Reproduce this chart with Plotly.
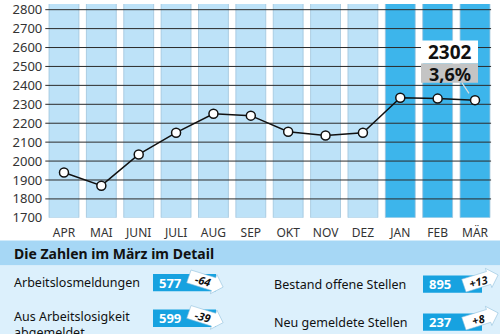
import math
import plotly.graph_objects as go

# ---------------- data ----------------
months = ["APR", "MAI", "JUNI", "JULI", "AUG", "SEP", "OKT", "NOV", "DEZ", "JAN", "FEB", "MÄR"]
values = [1940, 1870, 2035, 2150, 2250, 2240, 2155, 2135, 2150, 2335, 2330, 2322]
column_top = [2900, 2900, 2900, 2900, 2900, 2900, 2900, 2900, 2900, 2900, 2900, 2900]
highlight = [False, False, False, False, False, False, False, False, False, True, True, True]
y_ticks = [1700, 1800, 1900, 2000, 2100, 2200, 2300, 2400, 2500, 2600, 2700, 2800]
grid_levels = [1800, 1900, 2000, 2100, 2200, 2300, 2400, 2500, 2600, 2700, 2800]
last_value_label = "2302"
last_rate_label = "3,6%"

detail_title = "Die Zahlen im März im Detail"
detail_left_labels = ["Arbeitslosmeldungen", "Aus Arbeitslosigkeit<br>abgemeldet"]
detail_left_values = ["577", "599"]
detail_left_changes = ["-64", "-39"]
detail_right_labels = ["Bestand offene Stellen", "Neu gemeldete Stellen"]
detail_right_values = ["895", "237"]
detail_right_changes = ["+13", "+8"]

# ---------------- styling ----------------
W, H = 500, 334
FONT = "Noto Sans"
LIGHT = "#bde2f8"
DARK = "#3db5eb"
HEADER = "#a6d7f5"
PANEL = "#dcf0fc"
BOXBLUE = "#17a2e0"


def px(x):
    return x / W


def py(y):
    return 1 - y / H


fig = go.Figure()

fig.add_trace(go.Bar(
    x=list(range(len(months))), y=[t - 1700 for t in column_top], base=1700,
    marker=dict(color=[DARK if h else LIGHT for h in highlight],
                line=dict(color="#9fc4dc", width=0.8)),
    width=0.8, hoverinfo="skip", showlegend=False))

# grid lines drawn above columns but below the line
gx, gy = [], []
for g in grid_levels:
    gx += [-0.52, 11.43, None]
    gy += [g, g, None]
fig.add_trace(go.Scatter(x=gx, y=gy, mode="lines", line=dict(color="#2b2b2b", width=1),
                         hoverinfo="skip", showlegend=False))

fig.add_trace(go.Scatter(
    x=list(range(len(months))), y=values, mode="lines+markers",
    line=dict(color="#111111", width=1.5),
    marker=dict(size=9, color="white", line=dict(color="#111111", width=1.5)),
    showlegend=False))

shapes = []
annotations = []

# bottom panel backgrounds
shapes.append(dict(type="rect", xref="paper", yref="paper", x0=0, x1=1, y0=py(272), y1=py(246),
                   fillcolor=HEADER, line=dict(width=0), layer="above"))
shapes.append(dict(type="rect", xref="paper", yref="paper", x0=0, x1=1, y0=-0.1, y1=py(272),
                   fillcolor=PANEL, line=dict(width=0), layer="above"))
annotations.append(dict(text=f"<b>{detail_title}</b>", xref="paper", yref="paper", x=px(12), y=py(260),
                        xanchor="left", yanchor="middle", showarrow=False,
                        font=dict(family=FONT, size=14, color="#111111")))

# value label for the last point
shapes.append(dict(type="rect", xref="paper", yref="paper", x0=px(421), x1=px(478), y0=py(62), y1=py(38),
                   fillcolor="white", line=dict(width=0), layer="above"))
shapes.append(dict(type="rect", xref="paper", yref="paper", x0=px(421), x1=px(478), y0=py(82), y1=py(62),
                   fillcolor="#c4c4c4", line=dict(width=0), layer="above"))
shapes.append(dict(type="line", xref="paper", yref="paper", x0=px(462), y0=py(82), x1=px(469), y1=py(93),
                   line=dict(color="#dddddd", width=1.2), layer="above"))
annotations.append(dict(text=f"<b>{last_value_label}</b>", xref="paper", yref="paper", x=px(449.5), y=py(50),
                        xanchor="center", yanchor="middle", showarrow=False,
                        font=dict(family=FONT, size=19, color="#111111")))
annotations.append(dict(text=f"<b>{last_rate_label}</b>", xref="paper", yref="paper", x=px(449.5), y=py(72.5),
                        xanchor="center", yanchor="middle", showarrow=False,
                        font=dict(family=FONT, size=18, color="#111111")))


def arrow_path(cx, cy, L, h, Hh, head, ang):
    pts = [(-L / 2, -h), (L / 2 - head, -h), (L / 2 - head, -Hh), (L / 2, 0),
           (L / 2 - head, Hh), (L / 2 - head, h), (-L / 2, h)]
    a = math.radians(ang)
    out = []
    for (x, y) in pts:
        rx = cx + x * math.cos(a) - y * math.sin(a)
        ry = cy + x * math.sin(a) + y * math.cos(a)
        out.append((px(rx), py(ry)))
    return "M " + " L ".join(f"{x:.5f},{y:.5f}" for x, y in out) + " Z"


def detail_row(label, val, change, lx, bx0, bx1, y, up, label_y=None, label_anchor="middle"):
    annotations.append(dict(text=label, xref="paper", yref="paper", x=px(lx),
                            y=py(label_y if label_y is not None else y), xanchor="left",
                            yanchor=label_anchor, showarrow=False, align="left",
                            font=dict(family=FONT, size=12.5, color="#111111")))
    shapes.append(dict(type="rect", xref="paper", yref="paper", x0=px(bx0), x1=px(bx1),
                       y0=py(y + 9), y1=py(y - 9), fillcolor=BOXBLUE, line=dict(width=0), layer="above"))
    annotations.append(dict(text=f"<b>{val}</b>", xref="paper", yref="paper", x=px(bx0 + 4), y=py(y),
                            xanchor="left", yanchor="middle", showarrow=False,
                            font=dict(family=FONT, size=13, color="white")))
    ang = -18 if up else 18
    cx = bx1 - 10 if not up else bx1 - 1
    cy = y - 1 if not up else y - 4
    shapes.append(dict(type="path", xref="paper", yref="paper",
                       path=arrow_path(cx, cy, 36, 7, 10.5, 10, ang),
                       fillcolor="white", line=dict(color="#8fbfdc", width=0.6), layer="above"))
    annotations.append(dict(text=f"<b><i>{change}</i></b>", xref="paper", yref="paper",
                            x=px(cx - 3), y=py(cy - (1 if not up else -1)), xanchor="center", yanchor="middle",
                            showarrow=False, textangle=(14 if not up else -14),
                            font=dict(family=FONT, size=11, color="#111111")))


detail_row(detail_left_labels[0], detail_left_values[0], detail_left_changes[0], 12, 153, 216, 290, up=False)
detail_row(detail_right_labels[0], detail_right_values[0], detail_right_changes[0], 272, 423, 482, 291.5, up=True)
detail_row(detail_left_labels[1], detail_left_values[1], detail_left_changes[1], 12, 153, 216, 327, up=False,
           label_y=314.5, label_anchor="top")
detail_row(detail_right_labels[1], detail_right_values[1], detail_right_changes[1], 272, 423, 482, 331, up=True)

fig.update_layout(
    width=W, height=H, margin=dict(l=0, r=0, t=0, b=0),
    paper_bgcolor="white", plot_bgcolor="white",
    bargap=0.2, shapes=shapes, annotations=annotations,
    font=dict(family=FONT),
    xaxis=dict(domain=[px(45.3), px(493.7)], range=[-0.5, 11.5], tickmode="array",
               tickvals=list(range(len(months))), ticktext=months, showgrid=False, zeroline=False,
               showline=False, ticks="", ticklabelstandoff=6,
               tickfont=dict(family=FONT, size=12, color="#333333"), fixedrange=True),
    yaxis=dict(domain=[py(222.5), 1], range=[1700, 2830], tickmode="array", tickvals=y_ticks,
               showgrid=False, zeroline=False, showline=False, ticks="", ticklabelstandoff=2,
               ticklabeloverflow="allow",
               tickfont=dict(family=FONT, size=13, color="#333333"), fixedrange=True),
)

fig.write_html("out.html")
